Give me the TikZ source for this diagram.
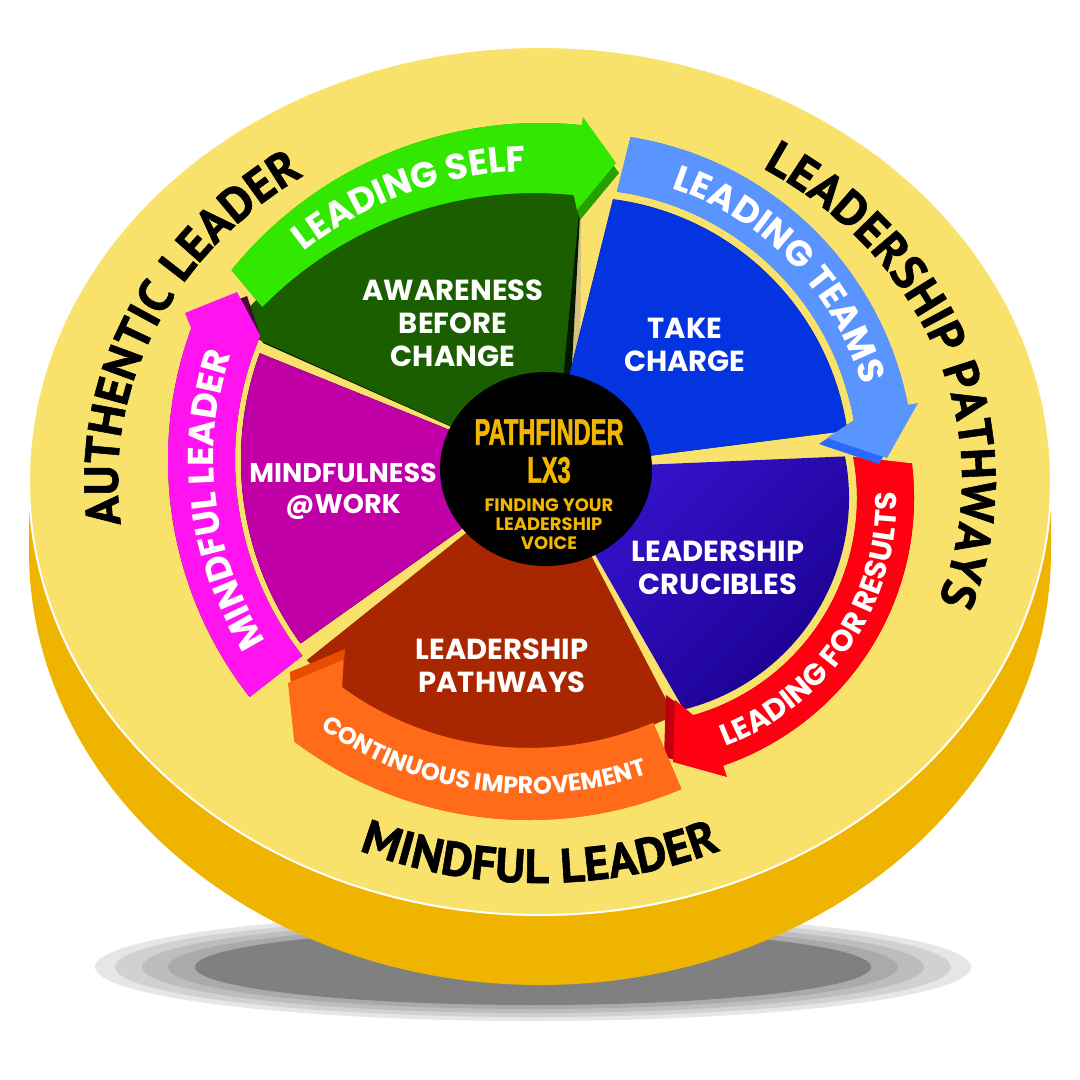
\documentclass[tikz,border=0pt]{standalone}
\usepackage{fontspec}
\usetikzlibrary{calc,decorations.text}
\newfontfamily\mont{Poppins}
\newfontfamily\pts{PT Sans}[FakeBold=1.2]
\newfontfamily\cond{Liberation Sans}[FakeStretch=0.64, FakeBold=1.5]
\definecolor{topY}{HTML}{F9E26B}
\definecolor{sideY}{HTML}{EFB400}
\definecolor{tanS}{HTML}{D6C27E}
\definecolor{shA}{HTML}{E6E6E6}
\definecolor{shB}{HTML}{D1D1D1}
\definecolor{shC}{HTML}{BDBDBD}
\definecolor{shD}{HTML}{AAAAAA}
\definecolor{shE}{HTML}{808080}
\definecolor{gBright}{HTML}{33E800}
\definecolor{gSide}{HTML}{24A000}
\definecolor{gDark}{HTML}{1B5E00}
\definecolor{bLight}{HTML}{5A94FF}
\definecolor{bSide}{HTML}{2A68FF}
\definecolor{bSeg}{HTML}{0433E0}
\definecolor{bNavy}{HTML}{00174D}
\definecolor{rRed}{HTML}{FF0010}
\definecolor{rSide}{HTML}{C0000E}
\definecolor{vTop}{HTML}{3614CF}
\definecolor{vBot}{HTML}{1A008E}
\definecolor{oLight}{HTML}{FF6B18}
\definecolor{oSide}{HTML}{E84C00}
\definecolor{segBrown}{HTML}{A82700}
\definecolor{mBand}{HTML}{FF14F0}
\definecolor{mSide}{HTML}{46063A}
\definecolor{mSeg}{HTML}{C000A6}
\definecolor{mEdge}{HTML}{3E0031}
\definecolor{mEdgeB}{HTML}{6E0058}
\definecolor{goldT}{HTML}{F2B500}
\tikzset{
  lbl/.style={text=white, font=\mont\bfseries\fontsize{29}{33}\selectfont, align=center, inner sep=0pt},
  ctr/.style={text=goldT, inner sep=0pt},
}
\begin{document}
\begin{tikzpicture}[x=1pt,y=-1pt]
\fill[white] (0,0) rectangle (1080,1080);
\useasboundingbox (0,0) rectangle (1080,1080);
\coordinate (ax) at (546,469);
\coordinate (cGo) at (540,520);
\coordinate (cGi) at (534,574);
\coordinate (cGt) at (537,547);
\coordinate (cB) at (578,469);
\coordinate (cR) at (631,498);
\coordinate (cO) at (529,430);
\coordinate (cM) at (553,460);
\coordinate (cE) at (540,480);
% shadow
\fill[shA] (533,967) ellipse[x radius=438, y radius=54];
\fill[shB] (533,967) ellipse[x radius=418, y radius=50];
\fill[shC] (533,967) ellipse[x radius=391, y radius=46];
\fill[shD] (533,967) ellipse[x radius=365, y radius=42];
\fill[shE] (533,967) ellipse[x radius=338, y radius=38];
% disc
\fill[sideY] (540,551) ellipse[x radius=511, y radius=434];
\fill[sideY] (29,481) rectangle (1051,551);
\fill[topY, draw=white, line width=2pt] (540,481) ellipse[x radius=511, y radius=434];
% outer texts
\path[decorate, decoration={text along path, text align=center, text={|\pts\bfseries\fontsize{48}{48}\selectfont|AUTHENTIC LEADER}}]
  ($(cE)+(162:422 and 367)$) arc[start angle=162, end angle=246, x radius=422, y radius=367];
\path[decorate, decoration={text along path, text align=center, text={|\pts\bfseries\fontsize{48}{48}\selectfont|LEADERSHIP PATHWAYS}}]
  ($(cE)+(-68:422 and 367)$) arc[start angle=-68, end angle=30, x radius=422, y radius=367];
\path[decorate, decoration={text along path, text align=center, text={|\pts\bfseries\fontsize{48}{48}\selectfont|MINDFUL LEADER}}]
  ($(cE)+(127:458 and 403)$) arc[start angle=127, end angle=53, x radius=458, y radius=403];
% path definitions
\def\pGreenBand{($(cGo)+(-141:397)$) arc[start angle=-141, end angle=-84, radius=397] -- (583,117) -- (616,163) -- (577,210) -- ($(cGi)+(-84:381)$) arc[start angle=-84, end angle=-135.5, radius=381] -- cycle}
\def\pBlueBand{($(cB)+(-81:336)$) arc[start angle=-81, end angle=-11, radius=336] -- (918,403) -- (887,458) -- (827,438) -- ($(cB)+(-10:280)$) arc[start angle=-10, end angle=-82, radius=280] -- cycle}
\def\pRedBand{($(cR)+(-7:283)$) arc[start angle=-7, end angle=71, radius=283] -- (727,777) -- (673,762) -- (675,700) -- ($(cR)+(74:226)$) arc[start angle=74, end angle=-10.5, radius=226] -- cycle}
\def\pOrangeBand{($(cO)+(67:390)$) arc[start angle=67, end angle=127, radius=390] -- (288,683) -- (343,660) -- ($(cO)+(126:318)$) arc[start angle=126, end angle=67, radius=318] -- cycle}
\def\pMagBand{($(cM)+(142:385)$) arc[start angle=142, end angle=200, radius=385] -- (185,313) -- (237,292) -- ($(cM)+(203:318)$) arc[start angle=203, end angle=142, radius=318] -- cycle}
\def\pGreenSeg{(ax) -- (255,338) -- ($(cGi)+(-137:390)$) arc[start angle=-137, end angle=-83, radius=390] -- (563,378) -- cycle}
\def\pBlueSeg{(ax) -- ($(cB)+(-82.6:272)$) arc[start angle=-82.6, end angle=-8.1, radius=272] -- cycle}
\def\pMagSeg{(ax) -- ($(cM)+(200:312)$) arc[start angle=200, end angle=144, radius=312] -- cycle}
\def\pBrownSeg{(ax) -- ($(cO)+(134:320)$) arc[start angle=134, end angle=63, radius=320] -- cycle}
\def\pVioSeg{(ax) -- ($(cR)+(-11:218)$) arc[start angle=-11, end angle=76, radius=218] -- cycle}
% soft shadows in the gaps
\fill[tanS, shift={(0,-12)}] \pMagSeg;
\fill[tanS, shift={(4,12)}] \pMagSeg;
\fill[tanS, shift={(17,4)}] \pGreenSeg;
% segments
\shade[top color=vTop, bottom color=vBot, shading angle=45] \pVioSeg;
\fill[segBrown] \pBrownSeg;
\fill[mEdgeB, shift={(-2,7)}] \pMagSeg;
\fill[mEdge, shift={(-9,-4)}] \pMagSeg;
\fill[mSeg] \pMagSeg;
\fill[black!90!green, shift={(8,5)}] \pGreenSeg;
\fill[gDark] \pGreenSeg;
\fill[bNavy, shift={(-3,8)}] \pBlueSeg;
\fill[bSeg] \pBlueSeg;
% bands
\fill[mSide, shift={(10,4)}] \pMagBand;
\fill[mBand] \pMagBand;
\fill[rSide, shift={(-9,-5)}] \pRedBand;
\fill[rRed] \pRedBand;
\fill[oSide, shift={(2,-11)}] \pOrangeBand;
\fill[oLight] \pOrangeBand;
\fill[bSide, shift={(-8,6)}] \pBlueBand;
\fill[bLight] \pBlueBand;
\fill[gSide, shift={(3,10)}] \pGreenBand;
\fill[gBright] \pGreenBand;
% centre
\fill[black] (ax) ellipse[x radius=106, y radius=97];
\node[ctr, font=\cond\bfseries\fontsize{37}{37}\selectfont] (pf) at (549,432) {PATHFINDER};
\node[ctr, font=\cond\bfseries\fontsize{37}{37}\selectfont] (lx) at (549,470) {LX3};
\node[ctr, font=\mont\bfseries\fontsize{18}{18}\selectfont] (fy) at (549,505) {FINDING YOUR};
\node[ctr, font=\mont\bfseries\fontsize{18}{18}\selectfont] (ls) at (549,524) {LEADERSHIP};
\node[ctr, font=\mont\bfseries\fontsize{18}{18}\selectfont] (vo) at (549,543) {VOICE};
% segment labels
\node[lbl] (aw) at (453,323) {AWARENESS\\BEFORE\\CHANGE};
\node[lbl] (tc) at (685,345) {TAKE\\CHARGE};
\node[lbl, font=\mont\bfseries\fontsize{27}{31}\selectfont] (mw) at (343,491) {MINDFULNESS\\@WORK};
\node[lbl] (lc) at (718,568) {LEADERSHIP\\CRUCIBLES};
\node[lbl] (lp) at (502,666) {LEADERSHIP\\PATHWAYS};
% band texts
\path[decorate, decoration={text along path, text align=center, text color=white, text={|\mont\bfseries\fontsize{36}{36}\selectfont|LEADING SELF}}]
  ($(cGt)+(-140:376)$) arc[start angle=-140, end angle=-80, radius=376];
\path[decorate, decoration={text along path, text align=center, text color=white, text={|\mont\bfseries\fontsize{36}{36}\selectfont|LEADING TEAMS}}]
  ($(cB)+(-84:296)$) arc[start angle=-84, end angle=-4, radius=296];
\path[decorate, decoration={text along path, text align=center, text color=white, text={|\mont\bfseries\fontsize{30}{30}\selectfont|LEADING FOR RESULTS}}]
  ($(cR)+(75:266)$) arc[start angle=75, end angle=-7, radius=266];
\path[decorate, decoration={text along path, text align=center, text color=white, text={|\mont\bfseries\fontsize{24}{24}\selectfont|CONTINUOUS IMPROVEMENT}}]
  ($(cO)+(133:364)$) arc[start angle=133, end angle=63, radius=364];
\path[decorate, decoration={text along path, text align=center, text color=white, text={|\mont\bfseries\fontsize{36}{36}\selectfont|MINDFUL LEADER}}]
  ($(cM)+(133:339)$) arc[start angle=133, end angle=213, radius=339];
\end{tikzpicture}
\end{document}
